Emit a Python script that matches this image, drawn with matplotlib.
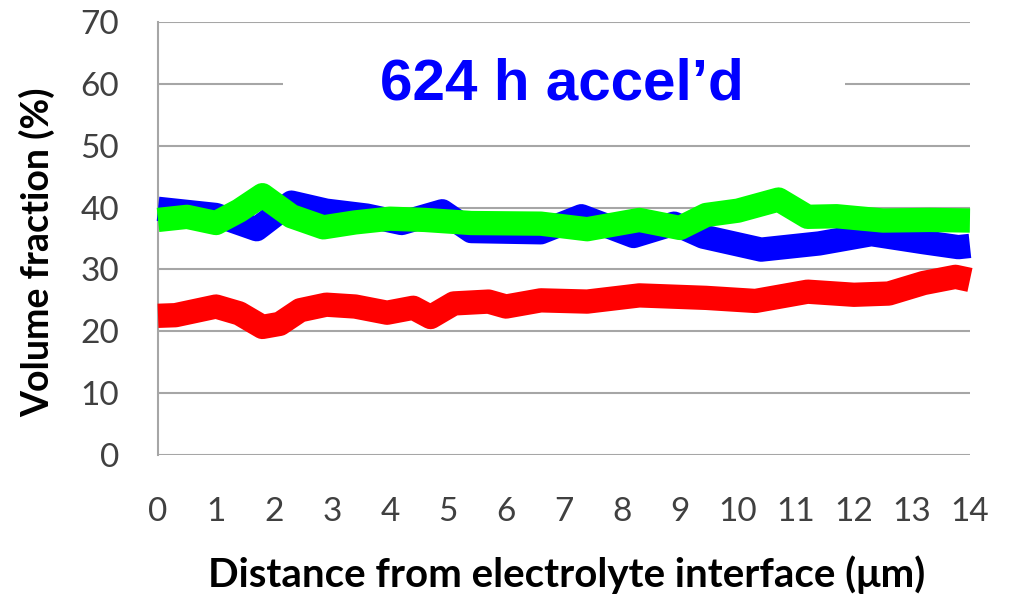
import numpy as np
import matplotlib
matplotlib.use('Agg')
import matplotlib.pyplot as plt
from matplotlib.patches import Rectangle

# Lectures sur l'image : (distance en µm, fraction volumique en %)
x_bleu = [0.0, 0.5, 1.0, 1.7, 2.3, 2.9, 3.6, 4.2, 4.9, 5.4, 6.6, 7.3, 8.2, 8.9,
          9.4, 10.4, 11.4, 12.3, 13.2, 13.8, 14.0]
y_bleu = [39.8, 39.3, 38.8, 36.5, 40.8, 39.5, 38.7, 37.5, 39.4, 36.2, 36.0, 38.6, 35.4, 37.4,
          35.3, 33.2, 34.2, 35.7, 34.4, 33.6, 33.8]

x_vert = [0.0, 0.5, 1.0, 1.4, 1.8, 2.3, 2.85, 3.4, 4.0, 4.6, 5.4, 6.6, 7.4, 8.3, 9.0,
          9.45, 10.0, 10.7, 11.2, 11.7, 12.5, 13.3, 14.0]
y_vert = [38.0, 38.5, 37.5, 39.5, 42.0, 38.6, 36.8, 37.6, 38.2, 38.0, 37.5, 37.4, 36.5, 38.0, 36.7,
          38.8, 39.5, 41.3, 38.5, 38.6, 37.9, 38.0, 37.9]

x_rouge = [0.0, 0.3, 1.0, 1.4, 1.8, 2.1, 2.45, 2.9, 3.4, 3.95, 4.4, 4.7, 5.1, 5.7, 6.0, 6.6,
           7.4, 8.3, 9.45, 10.3, 11.2, 12.0, 12.6, 13.2, 13.75, 14.0]
y_rouge = [22.5, 22.6, 24.0, 22.9, 20.7, 21.2, 23.4, 24.3, 24.0, 23.0, 23.8, 22.3, 24.5, 24.8, 24.0, 25.0,
           24.8, 25.8, 25.4, 24.9, 26.4, 25.9, 26.1, 27.8, 28.8, 28.3]

x_ticks = list(range(0, 15))
y_ticks = list(range(0, 80, 10))
titre = "624 h accel\u2019d"
label_x = "Distance from electrolyte interface (\u03bcm)"
label_y = "Volume fraction (%)"

fig = plt.figure(figsize=(10.09, 5.96), dpi=100)
ax = fig.add_axes([0.1566, 0.2366, 0.8047, 0.7265])

lw = 17.5
for xs, ys, c, z in [(x_rouge, y_rouge, '#ff0000', 3), (x_bleu, y_bleu, '#0000ff', 3), (x_vert, y_vert, '#00ff00', 4)]:
    ax.plot(xs, ys, color=c, lw=lw, solid_capstyle='butt', solid_joinstyle='round', zorder=z, clip_on=False)

ax.set_xlim(0, 14)
ax.set_ylim(0, 70)
ax.set_xticks(x_ticks)
ax.set_yticks(y_ticks)
ax.yaxis.grid(True, color='#a6a6a6', lw=1.5)
ax.set_axisbelow(True)
for s in ['top', 'right', 'bottom']:
    ax.spines[s].set_visible(False)
ax.spines['left'].set_color('#a6a6a6')
ax.spines['left'].set_linewidth(1.5)
ax.tick_params(axis='both', length=0, labelsize=24, labelcolor='#404040')
ax.tick_params(axis='y', pad=28)
ax.tick_params(axis='x', pad=30)
for lab in ax.get_xticklabels() + ax.get_yticklabels():
    lab.set_family('Lato')

fig.text(567 / 1009, 1 - 575 / 596, label_x, ha='center', va='center', fontsize=29,
         fontweight='bold', family=['Lato', 'DejaVu Sans'], color='black')
fig.text(37 / 1009, 1 - 252 / 596, label_y, ha='center', va='center', rotation=90,
         fontsize=27, fontweight='bold', family=['Lato', 'DejaVu Sans'], color='black')

# cadre blanc derrière le titre (cache la grille)
fig.patches.append(Rectangle((283 / 1009, 1 - 125 / 596), 562 / 1009, 85 / 596,
                             transform=fig.transFigure, facecolor='white', edgecolor='none', zorder=1))
fig.text(562 / 1009, 1 - 100 / 596, titre, ha='center', va='baseline', fontsize=42,
         fontweight='bold', family='Liberation Sans', color='#0000ff', zorder=2)

fig.savefig('out.png', dpi=100)
